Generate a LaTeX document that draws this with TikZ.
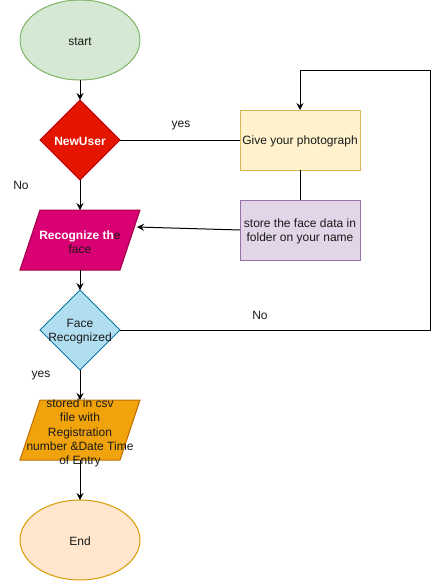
\documentclass[tikz,border=0pt]{standalone}
\usepackage{fontspec}
\setmainfont{Liberation Sans}
\usetikzlibrary{arrows.meta,shapes.geometric,calc}

\definecolor{startfill}{HTML}{D5E8D4}\definecolor{startline}{HTML}{82B366}
\definecolor{redfill}{HTML}{E51400}\definecolor{redline}{HTML}{B20000}
\definecolor{pinkfill}{HTML}{D80073}\definecolor{pinkline}{HTML}{A50040}
\definecolor{yelfill}{HTML}{FFF2CC}\definecolor{yelline}{HTML}{D6B656}
\definecolor{purfill}{HTML}{E1D5E7}\definecolor{purline}{HTML}{9673A6}
\definecolor{bluefill}{HTML}{B1DDF0}\definecolor{blueline}{HTML}{10739E}
\definecolor{orfill}{HTML}{F0A30A}\definecolor{orline}{HTML}{BD7000}
\definecolor{endfill}{HTML}{FFE6CC}\definecolor{endline}{HTML}{D79B00}
\definecolor{ink}{HTML}{1A1A1A}

\begin{document}
\begin{tikzpicture}[x=1pt,y=-1pt,
  every node/.style={font=\fontsize{12}{14.4}\selectfont, text=ink, inner sep=0pt, outer sep=0pt},
  terminal/.style={ellipse, minimum width=120pt, minimum height=80pt, line width=1pt},
  decision/.style={diamond, minimum width=80pt, minimum height=80pt, line width=1pt},
  procbox/.style={rectangle, minimum width=120pt, minimum height=60pt, line width=1pt, align=center},
  iobox/.style={rectangle, minimum width=100pt, minimum height=60pt, align=center},
  flow/.style={line width=1pt, draw=black},
  arr/.style={flow, -{Stealth[length=7pt,width=7pt,inset=2.5pt]}},
  lbl/.style={font=\fontsize{12}{14.4}\selectfont}
]
\useasboundingbox (0,0) rectangle (432,581);

% start / end terminals
\node[terminal, fill=startfill, draw=startline] (start) at (80,40) {};
\node (starttxt) at (80,41.5) {start};
\node[terminal, fill=endfill, draw=endline] (end) at (80,540) {};
\node (endtxt) at (80,541.5) {End};

% decisions (text set on top so it may overrun the outline)
\node[decision, fill=redfill, draw=redline] (newuser) at (80,140) {};
\node[text=white, font=\fontsize{12}{14.4}\selectfont\bfseries] (newusertxt) at (80,141.5) {NewUser};
\node[decision, fill=bluefill, draw=blueline] (face) at (80,330) {};
\node[align=center] (facetxt) at (80,331.5) {Face\\Recognized};

% process boxes
\node[procbox, fill=yelfill, draw=yelline] (photo) at (300,140) {};
\node (phototxt) at (300,141.5) {Give your photograph};
\node[procbox, fill=purfill, draw=purline] (store) at (300,230) {};
\node[align=center] (storetxt) at (300,231.5) {store the face data in\\folder on your name};

% parallelogram input/output boxes (outline drawn around a plain node)
\node[iobox] (recog) at (80,240) {};
\fill[pinkfill, draw=pinkline, line width=1pt]
  ($(recog.north west)+(10,0)$) -- ($(recog.north east)+(10,0)$) --
  ($(recog.south east)+(-10,0)$) -- ($(recog.south west)+(-10,0)$) -- cycle;
\node[align=center] (recogtxt) at (80,242) {{\color{white}\bfseries Recognize th}e\\face};
\coordinate (recogR) at (137,227);

\node[iobox] (csv) at (80,430) {};
\fill[orfill, draw=orline, line width=1pt]
  ($(csv.north west)+(10,0)$) -- ($(csv.north east)+(10,0)$) --
  ($(csv.south east)+(-10,0)$) -- ($(csv.south west)+(-10,0)$) -- cycle;
\node[align=center] (csvtxt) at (80,433) {stored in csv\\file with\\Registration\\number \&Date Time\\of Entry};

% connectors
\draw[arr] (start) -- (newuser);
\draw[arr] (newuser) -- (recog);
\draw[flow] (newuser.east) -- (photo.west);
\draw[flow] (photo) -- (store);
\draw[arr] (store.west) -- (recogR);
\draw[arr] (recog) -- (face);
\draw[arr] (face) -- (csv);
\draw[arr] (csv) -- (end);
\coordinate (loopR) at (430,330);
\draw[arr] (face.east) -- (loopR) |- ($(photo.north)+(0,-40)$) -- (photo.north);

% branch labels
\node[lbl] (lyes1) at (181,125.5) {yes};
\node[lbl] (lno1) at (21,185.5) {No};
\node[lbl] (lno2) at (260,315.5) {No};
\node[lbl] (lyes2) at (41,375.5) {yes};
\end{tikzpicture}
\end{document}
